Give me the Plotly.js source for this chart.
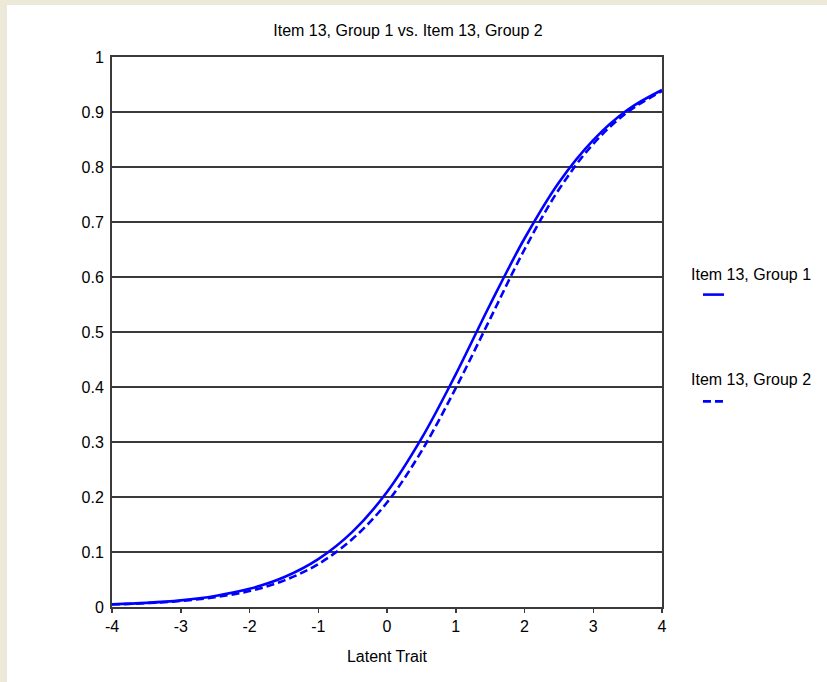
<!DOCTYPE html>
<html>
<head>
<meta charset="utf-8">
<script src="https://cdn.plot.ly/plotly-3.0.1.min.js"></script>
<style>
html,body{margin:0;padding:0;background:#ECE9D8;width:827px;height:682px;overflow:hidden;}
#chart{position:absolute;left:7px;top:5px;width:820px;height:677px;background:#fff;}
</style>
</head>
<body>
<div id="chart"></div>
<script>
// Latent trait values (x) and probabilities
const theta = [-4, -3.5, -3, -2.5, -2, -1.5, -1, -0.5, 0, 0.5, 1, 1.5, 2, 2.5, 3, 3.5, 4];
const group1 = [0.005, 0.0075, 0.012, 0.020, 0.033, 0.054, 0.087, 0.137, 0.209, 0.306, 0.423, 0.550, 0.670, 0.772, 0.849, 0.904, 0.940];
const group2 = [0.0045, 0.007, 0.011, 0.018, 0.029, 0.048, 0.078, 0.124, 0.190, 0.283, 0.398, 0.524, 0.650, 0.759, 0.842, 0.900, 0.938];
const seriesNames = ["Item 13, Group 1", "Item 13, Group 2"];
const xTicks = [-4, -3, -2, -1, 0, 1, 2, 3, 4];
const yTicks = [0, 0.1, 0.2, 0.3, 0.4, 0.5, 0.6, 0.7, 0.8, 0.9, 1];
const yTickText = ["0", "0.1", "0.2", "0.3", "0.4", "0.5", "0.6", "0.7", "0.8", "0.9", "1"];

const FONT = "Liberation Sans, Arial, sans-serif";
const BLUE = "#0000FF";
const DASH = "8px,4px";

const traces = [
  {x: theta, y: group1, name: seriesNames[0], type: "scatter", mode: "lines",
   line: {color: BLUE, width: 2.6, shape: "spline", smoothing: 1}, showlegend: false, hoverinfo: "skip"},
  {x: theta, y: group2, name: seriesNames[1], type: "scatter", mode: "lines",
   line: {color: BLUE, width: 2.6, dash: DASH, shape: "spline", smoothing: 1}, showlegend: false, hoverinfo: "skip"}
];

const layout = {
  width: 820, height: 677,
  margin: {l: 105, r: 165, t: 52, b: 75, pad: 0},
  paper_bgcolor: "#FFFFFF", plot_bgcolor: "#FFFFFF",
  font: {family: FONT, size: 16, color: "#000"},
  title: {text: seriesNames[0] + " vs. " + seriesNames[1], x: 0.489, xanchor: "center",
          y: 0.963, yanchor: "middle", yref: "container", font: {family: FONT, size: 16, color: "#000"}},
  xaxis: {range: [-4, 4], tickvals: xTicks, ticktext: xTicks.map(String),
          showgrid: false, zeroline: false, showline: true, mirror: true, linecolor: "#3a3a3a", linewidth: 2,
          ticks: "outside", ticklen: 4, tickwidth: 1.5, tickcolor: "#3a3a3a",
          tickfont: {family: FONT, size: 16, color: "#000"},
          title: {text: "Latent Trait", standoff: 17, font: {family: FONT, size: 16, color: "#000"}},
          fixedrange: true},
  yaxis: {range: [0, 1], tickvals: yTicks, ticktext: yTickText,
          showgrid: true, gridcolor: "#3a3a3a", gridwidth: 2, zeroline: false,
          showline: true, mirror: true, linecolor: "#3a3a3a", linewidth: 2,
          ticks: "", ticklabelstandoff: 3,
          tickfont: {family: FONT, size: 16, color: "#000"}, fixedrange: true},
  annotations: [
    {text: seriesNames[0], xref: "paper", yref: "paper", x: 1.049, y: 0.6044, xanchor: "left", yanchor: "middle",
     showarrow: false, font: {family: FONT, size: 16, color: "#000"}},
    {text: seriesNames[1], xref: "paper", yref: "paper", x: 1.049, y: 0.4138, xanchor: "left", yanchor: "middle",
     showarrow: false, font: {family: FONT, size: 16, color: "#000"}}
  ],
  shapes: [
    {type: "line", xref: "paper", yref: "paper", x0: 1.0745, x1: 1.1127, y0: 0.568, y1: 0.568,
     line: {color: BLUE, width: 2.6}},
    {type: "line", xref: "paper", yref: "paper", x0: 1.0745, x1: 1.1127, y0: 0.3739, y1: 0.3739,
     line: {color: BLUE, width: 2.6, dash: DASH}}
  ],
  showlegend: false
};

Plotly.newPlot("chart", traces, layout, {displayModeBar: false, staticPlot: true});
</script>
</body>
</html>
